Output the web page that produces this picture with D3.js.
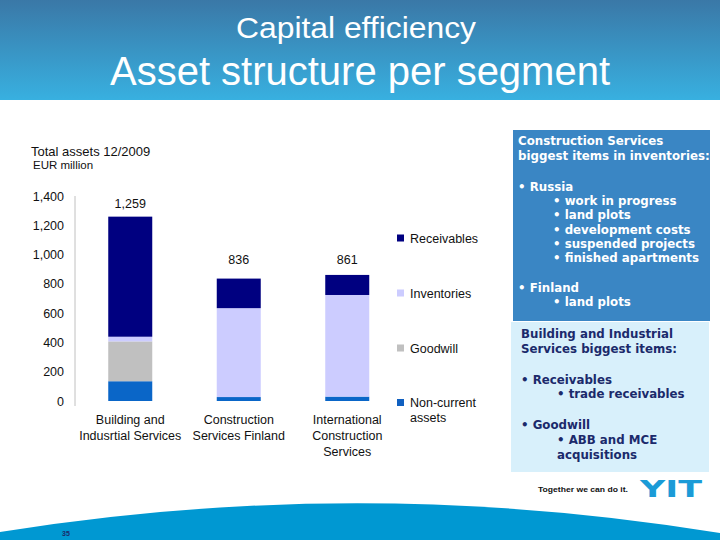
<!DOCTYPE html>
<html><head><meta charset="utf-8">
<script src="https://cdn.jsdelivr.net/npm/d3@7"></script>
<style>body{margin:0;background:#fff;}svg{display:block;font-family:"Liberation Sans",Arial,sans-serif;}</style>
</head><body>
<svg id="c" width="720" height="540"></svg>
<script>
const categories = [["Building and","Indusrtial Services"],["Construction","Services Finland"],["International","Construction","Services"]];
const seriesNames = ["Non-current assets","Goodwill","Inventories","Receivables"];
const nonCurrent = [135, 27, 30];
const goodwill = [272, 0, 0];
const inventories = [32, 607, 694];
const receivables = [820, 202, 137];
const totals = [1259, 836, 861];
const yTicks = [0,200,400,600,800,1000,1200,1400];
const colors = ["#0a66c8","#c0c0c0","#ccccff","#000080"];
const legendColors = ["#1060c0","#c0c0c0","#ccccff","#000080"];

const svg = d3.select("#c");
const defs = svg.append("defs");
const g = defs.append("linearGradient").attr("id","hdr").attr("x1",0).attr("y1",0).attr("x2",0).attr("y2",1);
g.append("stop").attr("offset","0").attr("stop-color","#3a78a7");
g.append("stop").attr("offset","1").attr("stop-color","#38b0e0");
svg.append("rect").attr("x",0).attr("y",0).attr("width",720).attr("height",100).attr("fill","url(#hdr)");
svg.append("text").attr("x",356).attr("y",38).attr("text-anchor","middle").attr("fill","#fff").attr("font-size",29)
  .attr("textLength",240).attr("lengthAdjust","spacingAndGlyphs").text("Capital efficiency");
svg.append("text").attr("x",360).attr("y",85).attr("text-anchor","middle").attr("fill","#fff").attr("font-size",41)
  .attr("textLength",500).attr("lengthAdjust","spacingAndGlyphs").text("Asset structure per segment");

svg.append("text").attr("x",31).attr("y",156).attr("font-size",13).attr("fill","#111").text("Total assets 12/2009");
svg.append("text").attr("x",33).attr("y",169).attr("font-size",11.5).attr("fill","#111").text("EUR million");

const y = d3.scaleLinear().domain([0,1400]).range([401,196]);
const x = d3.scaleBand().domain(d3.range(categories.length)).range([76,401.5]).padding(0);
const bw = 44;

// axis
const ax = svg.append("g").attr("transform","translate(75,0)").call(d3.axisLeft(y).tickValues(yTicks).tickSize(0).tickPadding(11).tickFormat(d3.format(",")));
ax.select(".domain").attr("stroke","#c0c0c0").attr("d","M0,196V406");
ax.selectAll("text").attr("font-size",12.5).attr("fill","#111").attr("font-family","Liberation Sans, Arial, sans-serif");

const data = categories.map((c,i)=>({i, "Non-current assets":nonCurrent[i], "Goodwill":goodwill[i], "Inventories":inventories[i], "Receivables":receivables[i]}));
const stack = d3.stack().keys(seriesNames)(data);
svg.append("g").selectAll("g").data(stack).join("g").attr("fill",(d,k)=>colors[k])
  .selectAll("rect").data(d=>d).join("rect")
  .attr("x",d=>x(d.data.i)+x.bandwidth()/2-bw/2).attr("width",bw)
  .attr("y",d=>y(d[1])).attr("height",d=>Math.max(0,y(d[0])-y(d[1])));

svg.append("g").selectAll("text").data(totals).join("text")
  .attr("x",(d,i)=>x(i)+x.bandwidth()/2).attr("y",d=>Math.min(y(d)-9, 264))
  .attr("text-anchor","middle").attr("font-size",12.5).attr("fill","#111").text(d3.format(","));

const cat = svg.append("g").selectAll("text").data(categories).join("text")
  .attr("text-anchor","middle").attr("font-size",12.5).attr("fill","#111");
cat.selectAll("tspan").data((d,i)=>d.map(s=>({s,i}))).join("tspan")
  .attr("x",d=>x(d.i)+x.bandwidth()/2).attr("y",(d,j)=>424+j*16.2).text(d=>d.s);

// legend
const legY = [238.5,293.5,348.5,403];
const legOrder = [3,2,1,0];
legOrder.forEach((k,idx)=>{
  svg.append("rect").attr("x",397).attr("y",legY[idx]-4).attr("width",7).attr("height",7).attr("fill",legendColors[k]);
});
svg.append("text").attr("x",410).attr("y",243).attr("font-size",12.5).attr("fill","#111").text("Receivables");
svg.append("text").attr("x",410).attr("y",298).attr("font-size",12.5).attr("fill","#111").text("Inventories");
svg.append("text").attr("x",410).attr("y",353).attr("font-size",12.5).attr("fill","#111").text("Goodwill");
svg.append("text").attr("x",410).attr("y",407).attr("font-size",12.5).attr("fill","#111").text("Non-current");
svg.append("text").attr("x",410).attr("y",422).attr("font-size",12.5).attr("fill","#111").text("assets");

// right panels
const pf = "DejaVu Sans, Verdana, sans-serif";
svg.append("rect").attr("x",513).attr("y",130).attr("width",197).attr("height",191).attr("fill","#3a86c4");
const t1 = [["Construction Services",518,145],["biggest items in inventories:",518,160],
  ["• Russia",518,191],["• work in progress",553,205],["• land plots",553,219],["• development costs",553,234],
  ["• suspended projects",553,248],["• finished apartments",553,262],["• Finland",518,292],["• land plots",553,306]];
t1.forEach(t=>svg.append("text").attr("x",t[1]).attr("y",t[2]).attr("font-size",11.8).attr("font-family",pf).attr("font-weight","bold").attr("fill","#fff").text(t[0]));

svg.append("rect").attr("x",511).attr("y",322).attr("width",198).attr("height",150).attr("fill","#d8f0fb");
const t2 = [["Building and Industrial",521,338],["Services biggest items:",521,353],
  ["• Receivables",521,384],["• trade receivables",557,398],["• Goodwill",521,429],["• ABB and MCE",557,444],["acquisitions",557,459]];
t2.forEach(t=>svg.append("text").attr("x",t[1]).attr("y",t[2]).attr("font-size",11.8).attr("font-family",pf).attr("font-weight","bold").attr("fill","#1b2a6b").text(t[0]));

// logo
svg.append("text").attr("x",538).attr("y",492).attr("font-size",8).attr("font-weight","bold").attr("fill","#111")
  .attr("textLength",90).attr("lengthAdjust","spacingAndGlyphs").text("Together we can do it.");
svg.append("text").attr("x",640).attr("y",497).attr("font-size",23).attr("font-weight","900").attr("fill","#1b9bd7").attr("font-family","DejaVu Sans, sans-serif")
  .attr("textLength",62).attr("lengthAdjust","spacingAndGlyphs").text("YIT");

// bottom wave
svg.append("path").attr("d","M0,532 Q360,474 720,533 L720,540 L0,540 Z").attr("fill","#0098d2");
svg.append("text").attr("x",62).attr("y",536).attr("font-size",7).attr("font-weight","bold").attr("fill","#1b2a6b").text("35");
</script>
</body></html>
